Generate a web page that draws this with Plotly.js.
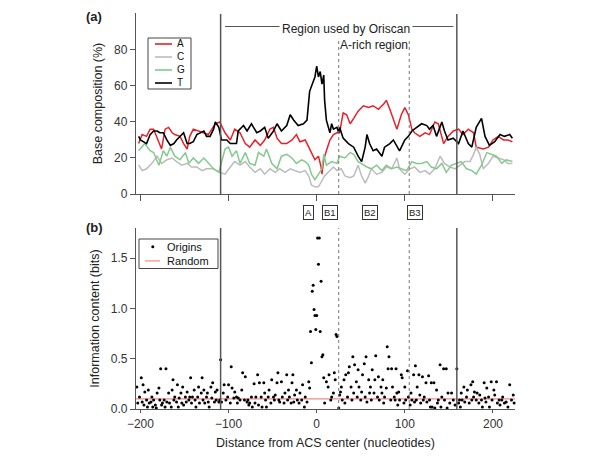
<!DOCTYPE html>
<html>
<head>
<meta charset="utf-8">
<script src="https://cdn.plot.ly/plotly-3.0.1.min.js"></script>
<style>html,body{margin:0;padding:0;background:#fff;}#chart{width:600px;height:457px;}</style>
</head>
<body>
<div id="chart"></div>
<script>
// ---- Top panel: base composition (%) ----
const aX = [-202,-198,-193,-189,-185,-179,-176,-172,-168,-164,-161,-155,-151,-147,-144,-140,-134,-128,-123,-115,-110,-104,-98,-93,-87,-81,-76,-70,-64,-59,-53,-49,-45,-40,-34,-28,-23,-19,-13,-9,-6,-2,2,5,6,8,11,15,19,23,26,30,34,38,42,47,53,59,64,70,76,79,83,87,91,96,100,104,108,111,117,123,128,134,138,144,149,155,161,166,172,178,181,189,195,200,206,212,217,222];
const aY = [28,33,32,36,36,28,25,36,37,34,33,32,28,25,32,36,35,34,33,39,40,34,30,36,34,28,26,30,27,30,36,37,31,28,28,30,33,29,30,26,23,19,21,15,11,19,24,30,33,34,34,45,44,39,42,46,49,48,49,47,50,52,47,41,36,44,48,44,36,34,32,34,33,40,39,28,32,35,36,33,36,34,26,25,26,30,32,30,30,29];

const cX = [-202,-198,-193,-187,-181,-176,-170,-164,-159,-153,-147,-142,-136,-130,-125,-117,-110,-104,-98,-93,-87,-81,-76,-70,-64,-59,-53,-47,-42,-36,-30,-25,-19,-13,-9,-6,-2,2,6,9,15,19,23,28,32,38,42,47,51,55,59,62,68,74,79,85,91,94,100,106,111,117,123,128,134,140,145,151,157,162,168,174,178,181,185,189,195,200,206,212,217,222];
const cY = [16,13,14,17,21,17,19,20,18,16,17,15,15,13,14,14,12,11,15,18,16,18,15,12,14,11,14,12,14,12,14,13,12,13,10,5,4,4,7,10,13,15,13,14,10,9,10,16,10,6,10,14,11,12,15,14,20,14,11,14,15,12,13,11,14,21,17,15,14,16,18,18,22,26,22,14,17,21,20,19,17,17];

const gX = [-202,-198,-195,-189,-185,-179,-174,-170,-166,-161,-155,-149,-145,-140,-134,-128,-123,-117,-111,-108,-104,-100,-96,-91,-87,-81,-76,-70,-66,-60,-57,-51,-45,-40,-34,-28,-23,-17,-13,-9,-6,-2,2,6,8,11,17,23,26,32,38,42,47,53,57,62,68,74,79,85,91,96,102,108,113,119,125,130,136,142,147,153,159,164,170,176,181,187,193,198,204,210,215,222];
const gY = [24,26,28,24,23,16,24,21,26,21,19,23,17,20,17,20,17,14,12,17,25,26,21,24,17,23,17,16,23,21,25,17,14,21,22,20,17,19,18,16,11,8,11,14,22,16,18,17,21,20,23,22,18,16,15,14,16,13,16,14,15,14,13,18,17,17,18,15,14,17,12,16,17,18,14,13,11,16,23,22,21,17,19,18];

const tX = [-202,-200,-193,-189,-185,-181,-178,-174,-170,-166,-162,-159,-151,-147,-144,-140,-136,-128,-125,-121,-117,-115,-111,-108,-102,-98,-91,-89,-83,-79,-74,-68,-64,-59,-55,-49,-45,-40,-34,-30,-26,-21,-15,-11,-8,-6,-4,-2,0,2,4,6,8,9,11,13,15,17,19,23,25,26,30,36,42,47,51,55,57,60,64,68,74,77,83,87,91,94,100,104,108,113,119,125,128,132,136,142,145,149,155,161,166,172,176,181,187,191,196,202,208,213,219,222];
const tY = [32,30,28,33,35,35,34,34,30,27,28,30,34,28,28,29,33,35,32,32,36,40,37,30,30,28,28,35,38,35,39,34,35,37,31,35,39,35,38,44,41,38,39,41,57,60,63,65,71,65,68,61,66,52,41,37,34,39,36,37,34,37,31,28,26,21,18,26,33,28,24,25,21,26,28,30,27,24,30,32,35,37,39,38,36,38,32,40,35,30,31,28,35,28,26,37,42,32,27,29,33,32,33,31];

// ---- Bottom panel: information content (bits) ----
const originsX = [
  -204,-203,-201,-199,-198,-197,-196,-195,-193,-192,-191,-190,-188,-187,-186,-185,-183,-182,-181,-179,-178,-177,-176,-175,-173,-172,-171,-170,-168,-167,-165,-164,-163,-162,-161,-159,-158,-157,-156,-154,-153,-152,-151,-149,-148,-147,-145,-144,-143,-142,-141,-139,-138,-137,-135,-134,-133,-131,-130,-129,-128,-127,-125,-124,-123,-122,-120,-119,-118,-116,-115,-114,-113,-111,-110,-109,-108,
  -106,-105,-103,-101,-100,-98,-97,-96,-94,-93,-91,-90,-89,-87,-85,-84,-82,-81,-79,-78,-77,-76,-74,-73,-71,-70,-69,-67,-66,-65,-63,-62,-60,-59,-58,-57,-55,-54,-52,-51,-49,-48,-47,-45,-44,-43,-42,-40,-39,-37,-36,-34,-33,-32,-31,-29,-28,-27,-26,-25,-23,-22,-20,-19,-17,-16,-14,-13,-11,-9,-8,
  -7,-6,-5,-4,-3,-2,-1,0,1,2,3,4,5,6,7,8,9,
  11,13,14,16,17,19,20,21,22,23,25,26,27,28,29,31,32,33,35,36,37,39,40,41,42,43,45,46,47,48,50,51,52,54,55,56,57,59,60,61,62,63,65,66,67,69,70,71,73,74,75,76,77,79,80,81,82,84,85,86,88,89,90,91,92,93,94,96,97,99,100,101,103,104,
  106,107,108,110,111,112,113,114,116,117,118,120,121,122,124,125,127,128,129,130,131,133,134,136,137,138,140,141,142,144,145,147,148,149,151,153,155,157,159,
  161,162,163,164,165,167,168,170,171,173,175,176,177,178,179,181,182,184,185,187,188,190,191,192,193,195,196,198,199,201,202,204,205,207,208,210,211,213,215,217,219,221,223,224];
const originsY = [
  0.22,0.06,0.12,0.31,0.07,0.24,0.04,0.17,0.09,0.02,0.19,0.06,0.07,0.12,0.02,0.09,0.04,0.01,0.16,0.21,0.09,0.40,0.04,0.06,0.09,0.02,0.40,0.07,0.16,0.06,0.02,0.19,0.29,0.09,0.12,0.07,0.24,0.02,0.11,0.16,0.06,0.22,0.04,0.12,0.07,0.17,0.09,0.12,0.31,0.06,0.12,0.19,0.09,0.02,0.12,0.22,0.06,0.16,0.31,0.09,0.19,0.06,0.12,0.16,0.07,0.02,0.22,0.11,0.26,0.07,0.17,0.09,0.19,0.07,0.09,0.49,0.07,
  0.16,0.24,0.09,0.12,0.24,0.06,0.42,0.21,0.11,0.17,0.12,0.06,0.11,0.09,0.19,0.36,0.09,0.32,0.07,0.09,0.04,0.06,0.12,0.02,0.25,0.06,0.12,0.34,0.04,0.26,0.12,0.02,0.26,0.16,0.09,0.02,0.12,0.19,0.06,0.29,0.12,0.09,0.14,0.26,0.36,0.09,0.07,0.27,0.12,0.06,0.16,0.34,0.09,0.19,0.12,0.06,0.26,0.34,0.07,0.14,0.19,0.09,0.06,0.16,0.09,0.24,0.02,0.12,0.07,0.27,0.21,
  0.77,0.46,1.17,1.23,0.99,0.93,0.79,0.93,1.70,1.44,1.70,0.77,1.27,0.52,0.54,0.31,0.06,
  0.27,0.22,0.34,0.09,0.12,0.16,0.36,0.29,0.74,0.72,0.01,0.14,0.17,0.22,0.09,0.29,0.06,0.34,0.12,0.36,0.42,0.22,0.09,0.52,0.16,0.44,0.27,0.12,0.39,0.22,0.09,0.17,0.34,0.45,0.12,0.52,0.07,0.29,0.16,0.22,0.09,0.39,0.16,0.29,0.53,0.12,0.32,0.09,0.22,0.16,0.29,0.06,0.12,0.21,0.62,0.40,0.52,0.09,0.40,0.22,0.12,0.09,0.40,0.16,0.04,0.17,0.09,0.34,0.31,0.06,0.22,0.09,0.38,0.12,
  0.04,0.16,0.09,0.34,0.07,0.43,0.09,0.22,0.34,0.14,0.06,0.32,0.09,0.12,0.26,0.07,0.33,0.09,0.02,0.26,0.02,0.26,0.01,0.19,0.06,0.09,0.44,0.02,0.12,0.40,0.09,0.40,0.01,0.16,0.06,0.16,0.09,0.04,0.40,
  0.06,0.09,0.02,0.16,0.09,0.22,0.07,0.12,0.19,0.06,0.24,0.09,0.27,0.12,0.17,0.09,0.16,0.06,0.14,0.09,0.02,0.26,0.11,0.07,0.21,0.12,0.02,0.27,0.09,0.19,0.14,0.27,0.06,0.09,0.04,0.09,0.12,0.06,0.07,0.02,0.24,0.09,0.14,0.06];
const randomX = [-205, 225];
const randomY = [0.1, 0.1];

// ---- Labels ----
const baseNames = ['A', 'C', 'G', 'T'];
const xTicks = [-200, -100, 0, 100, 200];
const motifLabels = ['A', 'B1', 'B2', 'B3'];
const motifPos = [-9, 15, 60, 111];
const regionSolid = [-109, 159];
const regionDashed = [25, 105];
const bottomLegend = ['Origins', 'Random'];

const FONT = 'Liberation Sans, Arial, Helvetica, sans-serif';
const colors = {A: '#e8202a', C: '#bcbcbc', G: '#84c98e', T: '#000000'};
const AX = '#555555';

const traces = [
  {x: aX, y: aY, name: 'A', xaxis: 'x2', yaxis: 'y2', mode: 'lines', line: {color: colors.A, width: 1.5}},
  {x: cX, y: cY, name: 'C', xaxis: 'x2', yaxis: 'y2', mode: 'lines', line: {color: colors.C, width: 1.5}},
  {x: gX, y: gY, name: 'G', xaxis: 'x2', yaxis: 'y2', mode: 'lines', line: {color: colors.G, width: 1.5}},
  {x: tX, y: tY, name: 'T', xaxis: 'x2', yaxis: 'y2', mode: 'lines', line: {color: colors.T, width: 1.6}},
  {x: randomX, y: randomY, name: 'Random', xaxis: 'x', yaxis: 'y', mode: 'lines', line: {color: '#f08a8a', width: 1.2}},
  {x: originsX, y: originsY, name: 'Origins', xaxis: 'x', yaxis: 'y', mode: 'markers', marker: {color: '#000', size: 3}, cliponaxis: false}
];

// paper coordinate helpers (plot area: x 136..515 px, y 13..409 px)
const px = v => (v - 136) / 379;
const py = v => (409 - v) / 396;

const shapes = [];
const annotations = [];
regionSolid.forEach(v => {
  shapes.push({type: 'line', xref: 'x2', yref: 'y2', x0: v, x1: v, y0: 0, y1: 100, line: {color: AX, width: 1.5}});
  shapes.push({type: 'line', xref: 'x', yref: 'y', x0: v, x1: v, y0: 0, y1: 1.8, line: {color: AX, width: 1.5}});
});
regionDashed.forEach(v => {
  shapes.push({type: 'line', xref: 'x2', yref: 'y2', x0: v, x1: v, y0: 0, y1: 86, line: {color: '#777', width: 1, dash: 'dot'}});
  shapes.push({type: 'line', xref: 'x', yref: 'y', x0: v, x1: v, y0: 0, y1: 1.8, line: {color: '#777', width: 1, dash: 'dot'}});
});
// header bracket line
shapes.push({type: 'line', xref: 'x2', yref: 'y2', x0: regionSolid[0] + 5, x1: -41, y0: 93, y1: 93, line: {color: AX, width: 1.2}});
shapes.push({type: 'line', xref: 'x2', yref: 'y2', x0: 108, x1: regionSolid[1] - 4, y0: 93, y1: 93, line: {color: AX, width: 1.2}});
annotations.push({xref: 'x2', yref: 'y2', x: 33, y: 91.5, xanchor: 'center', yanchor: 'middle', text: 'Region used by Oriscan', showarrow: false,
  bgcolor: '#fff', borderpad: 2, font: {family: FONT, size: 12, color: '#222'}});
annotations.push({xref: 'x2', yref: 'y2', x: (regionDashed[0] + regionDashed[1]) / 2, y: 82.5, xanchor: 'center', yanchor: 'middle', text: 'A-rich region', showarrow: false,
  font: {family: FONT, size: 12, color: '#222'}});

// motif boxes
motifLabels.forEach((t, i) => {
  annotations.push({xref: 'x', yref: 'paper', x: motifPos[i], y: py(212), xanchor: 'center', yanchor: 'middle', text: t, showarrow: false,
    font: {family: FONT, size: 9.5, color: '#222'}, bordercolor: '#333', borderwidth: 1, borderpad: 1, bgcolor: '#fff'});
});

// panel labels
annotations.push({xref: 'paper', yref: 'paper', x: px(94), y: py(17), xanchor: 'center', yanchor: 'middle', text: '<b>(a)</b>', showarrow: false, font: {family: FONT, size: 13, color: '#222'}});
annotations.push({xref: 'paper', yref: 'paper', x: px(94), y: py(227), xanchor: 'center', yanchor: 'middle', text: '<b>(b)</b>', showarrow: false, font: {family: FONT, size: 13, color: '#222'}});

// top legend (drawn manually for compactness): one multi-line text block
const legFont = 10;
const legStep = legFont * 1.3;
const legCenter = 63.5;
shapes.push({type: 'rect', xref: 'paper', yref: 'paper', x0: px(148), x1: px(191), y0: py(89), y1: py(38), line: {color: '#444', width: 1}});
baseNames.forEach((n, i) => {
  const yy = legCenter + (i - 1.5) * legStep;
  shapes.push({type: 'line', xref: 'paper', yref: 'paper', x0: px(155), x1: px(172), y0: py(yy), y1: py(yy), line: {color: colors[n], width: 1.6}});
});
annotations.push({xref: 'paper', yref: 'paper', x: px(175), y: py(legCenter), xanchor: 'left', yanchor: 'middle', align: 'left',
  text: baseNames.join('<br>'), showarrow: false, font: {family: FONT, size: legFont, color: '#111'}});

// bottom legend
const leg2Font = 11;
const leg2Step = leg2Font * 1.3;
const leg2Center = 253.8;
shapes.push({type: 'rect', xref: 'paper', yref: 'paper', x0: px(139), x1: px(218), y0: py(268.5), y1: py(239), line: {color: '#444', width: 1}});
const oy = leg2Center - leg2Step / 2, ry = leg2Center + leg2Step / 2;
shapes.push({type: 'circle', xref: 'paper', yref: 'paper', x0: px(151.3), x1: px(154.3), y0: py(oy + 1.5), y1: py(oy - 1.5), fillcolor: '#000', line: {width: 0}});
shapes.push({type: 'line', xref: 'paper', yref: 'paper', x0: px(145), x1: px(160), y0: py(ry), y1: py(ry), line: {color: '#f08a8a', width: 1.2}});
annotations.push({xref: 'paper', yref: 'paper', x: px(165), y: py(leg2Center), xanchor: 'left', yanchor: 'middle', align: 'left',
  text: bottomLegend.join('<br>'), showarrow: false, font: {family: FONT, size: leg2Font, color: '#111'}});

const axisCommon = {showgrid: false, zeroline: false, showline: true, linecolor: AX, linewidth: 1.2,
  ticks: 'outside', tickcolor: AX, tickfont: {family: FONT, size: 12, color: '#333'}};

const layout = {
  width: 600, height: 457,
  margin: {l: 136, r: 85, t: 13, b: 48},
  paper_bgcolor: '#fff', plot_bgcolor: '#fff',
  showlegend: false,
  font: {family: FONT},
  xaxis: Object.assign({}, axisCommon, {domain: [0, 1], anchor: 'y', range: [-205, 225], tickvals: xTicks,
    ticktext: xTicks.map(v => v < 0 ? '\u2212' + Math.abs(v) : String(v)), ticklen: 3,
    title: {text: 'Distance from ACS center (nucleotides)', font: {family: FONT, size: 12.5, color: '#222'}, standoff: 8}}),
  yaxis: Object.assign({}, axisCommon, {domain: [0, py(228)], anchor: 'x', range: [0, 1.8], tickvals: [0, 0.5, 1.0, 1.5], tickformat: '.1f', ticklen: 5,
    title: {text: 'Information content (bits)', font: {family: FONT, size: 12.5, color: '#222'}, standoff: 8}}),
  xaxis2: Object.assign({}, axisCommon, {domain: [0, 1], anchor: 'y2', range: [-205, 225], tickvals: xTicks, showticklabels: false, ticklen: 6}),
  yaxis2: Object.assign({}, axisCommon, {domain: [py(194), 1], anchor: 'x2', range: [0, 100.5], tickvals: [0, 20, 40, 60, 80], ticklen: 5,
    title: {text: 'Base composition (%)', font: {family: FONT, size: 12.5, color: '#222'}, standoff: 8}}),
  shapes: shapes,
  annotations: annotations
};

Plotly.newPlot('chart', traces, layout, {displayModeBar: false, staticPlot: true});
</script>
</body>
</html>
